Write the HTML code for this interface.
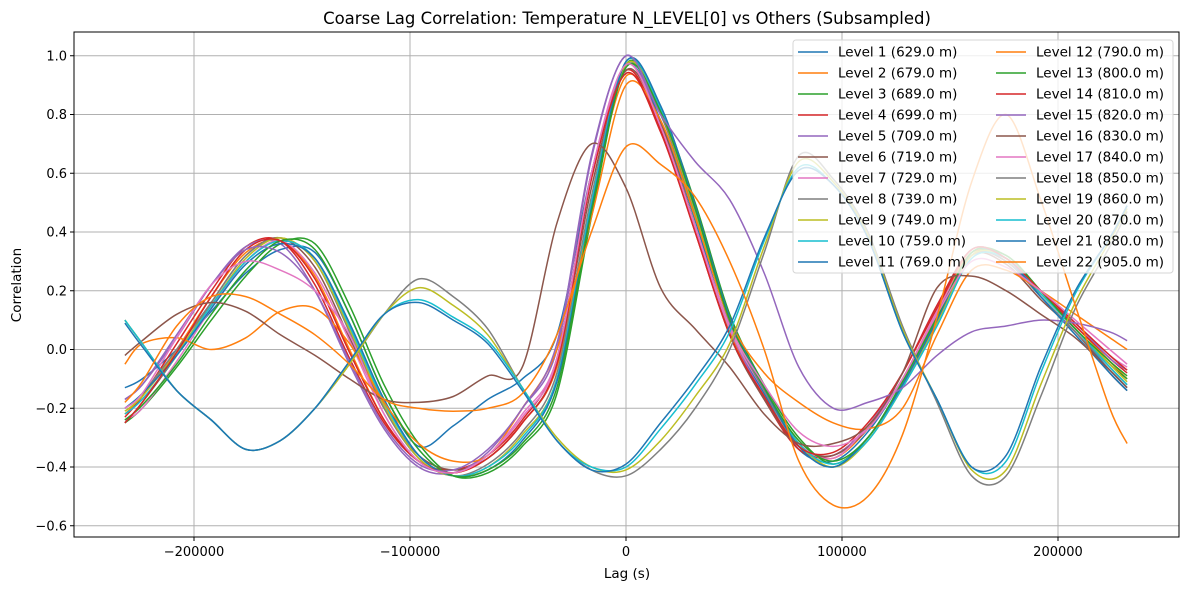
<!DOCTYPE html>
<html><head><meta charset="utf-8"><style>
body{margin:0;background:#fff;}
svg{display:block;font-family:"DejaVu Sans","Liberation Sans",sans-serif;}
</style></head><body>
<svg id="chart" width="1189" height="590" viewBox="0 0 1189 590" xmlns="http://www.w3.org/2000/svg">
<rect width="1189" height="590" fill="#fff"/>
<text x="627" y="24" font-size="16.5" text-anchor="middle" fill="#000">Coarse Lag Correlation: Temperature N_LEVEL[0] vs Others (Subsampled)</text>
<g id="grid"></g>
<g id="series"></g>
<rect x="74" y="32" width="1105" height="505" fill="none" stroke="#000" stroke-width="1"/>
<g id="axes"></g>
<text x="627" y="578" font-size="13.5" text-anchor="middle">Lag (s)</text>
<text transform="translate(21,285) rotate(-90)" font-size="13.5" text-anchor="middle">Correlation</text>
<g id="legend"></g>
</svg>
<script>
const lags=[-232000,-224000,-208000,-192000,-176000,-160000,-144000,-128000,-112000,-96000,-80000,-64000,-48000,-32000,-16000,0,16000,32000,48000,64000,80000,96000,112000,128000,144000,160000,176000,192000,208000,224000,232000];
const levelNames=["Level 1 (629.0 m)","Level 2 (679.0 m)","Level 3 (689.0 m)","Level 4 (699.0 m)","Level 5 (709.0 m)","Level 6 (719.0 m)","Level 7 (729.0 m)","Level 8 (739.0 m)","Level 9 (749.0 m)","Level 10 (759.0 m)","Level 11 (769.0 m)","Level 12 (790.0 m)","Level 13 (800.0 m)","Level 14 (810.0 m)","Level 15 (820.0 m)","Level 16 (830.0 m)","Level 17 (840.0 m)","Level 18 (850.0 m)","Level 19 (860.0 m)","Level 20 (870.0 m)","Level 21 (880.0 m)","Level 22 (905.0 m)"];
const level1=[-0.13,-0.1,0.0,0.13,0.26,0.34,0.33,0.12,-0.15,-0.33,-0.26,-0.17,-0.1,0.05,0.6,0.97,0.78,0.44,0.07,-0.15,-0.34,-0.38,-0.28,-0.1,0.12,0.33,0.3,0.18,0.06,-0.07,-0.13];
const level2=[-0.22,-0.16,0.0,0.18,0.33,0.37,0.25,0.0,-0.24,-0.38,-0.42,-0.37,-0.25,-0.06,0.5,0.93,0.76,0.42,0.06,-0.16,-0.33,-0.37,-0.27,-0.1,0.13,0.33,0.3,0.19,0.08,-0.04,-0.1];
const level3=[-0.25,-0.2,-0.06,0.1,0.25,0.36,0.36,0.15,-0.12,-0.32,-0.43,-0.42,-0.33,-0.15,0.45,0.97,0.82,0.5,0.12,-0.12,-0.3,-0.39,-0.3,-0.12,0.1,0.32,0.32,0.2,0.07,-0.05,-0.1];
const level4=[-0.23,-0.16,0.02,0.2,0.35,0.37,0.22,-0.03,-0.25,-0.38,-0.41,-0.36,-0.24,-0.03,0.6,0.95,0.75,0.4,0.05,-0.17,-0.34,-0.36,-0.26,-0.08,0.14,0.34,0.31,0.2,0.08,-0.03,-0.08];
const level5=[-0.17,-0.12,0.04,0.22,0.35,0.36,0.2,-0.05,-0.27,-0.4,-0.42,-0.35,-0.2,0.0,0.65,1.0,0.76,0.42,0.07,-0.16,-0.33,-0.36,-0.26,-0.08,0.15,0.34,0.31,0.2,0.09,-0.03,-0.07];
const level6=[-0.25,-0.18,-0.02,0.16,0.32,0.38,0.28,0.04,-0.2,-0.36,-0.41,-0.37,-0.25,-0.05,0.55,0.95,0.77,0.42,0.05,-0.17,-0.33,-0.36,-0.27,-0.1,0.12,0.32,0.29,0.17,0.06,-0.08,-0.14];
const level7=[-0.24,-0.2,-0.04,0.14,0.3,0.37,0.26,0.03,-0.22,-0.38,-0.42,-0.36,-0.23,-0.04,0.58,0.97,0.76,0.41,0.07,-0.14,-0.32,-0.37,-0.26,-0.1,0.13,0.32,0.31,0.2,0.09,-0.02,-0.06];
const level8=[-0.2,-0.15,0.0,0.16,0.32,0.38,0.3,0.06,-0.2,-0.37,-0.43,-0.39,-0.28,-0.08,0.52,0.97,0.8,0.46,0.09,-0.14,-0.33,-0.4,-0.3,-0.12,0.1,0.32,0.3,0.18,0.06,-0.06,-0.12];
const level9=[-0.21,-0.16,-0.01,0.15,0.31,0.38,0.3,0.07,-0.19,-0.37,-0.43,-0.4,-0.29,-0.1,0.5,0.97,0.81,0.47,0.1,-0.13,-0.32,-0.4,-0.31,-0.13,0.09,0.32,0.31,0.19,0.07,-0.05,-0.11];
const level10=[-0.22,-0.17,-0.02,0.15,0.3,0.37,0.31,0.08,-0.18,-0.36,-0.43,-0.4,-0.3,-0.1,0.5,0.98,0.82,0.48,0.1,-0.13,-0.32,-0.39,-0.31,-0.13,0.08,0.31,0.31,0.19,0.07,-0.06,-0.12];
const level11=[-0.2,-0.15,-0.02,0.14,0.29,0.36,0.31,0.09,-0.17,-0.36,-0.43,-0.41,-0.31,-0.11,0.48,0.98,0.83,0.49,0.11,-0.13,-0.33,-0.4,-0.3,-0.12,0.1,0.33,0.31,0.18,0.05,-0.08,-0.14];
const level12=[-0.05,0.02,0.04,0.0,0.04,0.13,0.14,0.02,-0.18,-0.32,-0.38,-0.36,-0.2,0.0,0.45,0.9,0.78,0.45,0.1,-0.08,-0.18,-0.25,-0.27,-0.2,0.05,0.27,0.27,0.2,0.12,0.04,0.0];
const level13=[-0.24,-0.19,-0.05,0.12,0.27,0.37,0.34,0.12,-0.15,-0.34,-0.43,-0.41,-0.32,-0.13,0.47,0.96,0.81,0.48,0.1,-0.13,-0.31,-0.38,-0.3,-0.11,0.11,0.33,0.32,0.2,0.07,-0.04,-0.09];
const level14=[-0.25,-0.18,-0.01,0.18,0.34,0.37,0.24,-0.01,-0.24,-0.38,-0.42,-0.37,-0.25,-0.05,0.58,0.94,0.74,0.4,0.05,-0.16,-0.33,-0.35,-0.25,-0.08,0.15,0.34,0.31,0.2,0.09,-0.02,-0.07];
const level15=[-0.17,-0.12,0.05,0.22,0.34,0.33,0.2,-0.04,-0.26,-0.39,-0.41,-0.34,-0.2,0.02,0.66,1.0,0.8,0.64,0.51,0.26,-0.06,-0.2,-0.18,-0.13,-0.02,0.06,0.08,0.1,0.09,0.06,0.03];
const level16=[-0.02,0.03,0.12,0.16,0.13,0.05,-0.02,-0.1,-0.17,-0.18,-0.16,-0.09,-0.06,0.43,0.7,0.55,0.21,0.07,-0.06,-0.22,-0.32,-0.32,-0.26,-0.08,0.21,0.25,0.2,0.12,0.04,-0.07,-0.13];
const level17=[-0.2,-0.15,0.04,0.22,0.3,0.27,0.2,0.05,-0.22,-0.38,-0.42,-0.36,-0.22,-0.03,0.6,0.97,0.76,0.42,0.08,-0.12,-0.28,-0.33,-0.27,-0.1,0.12,0.3,0.28,0.2,0.1,0.0,-0.05];
const level18=[0.1,0.02,-0.14,-0.24,-0.34,-0.31,-0.2,-0.05,0.12,0.24,0.18,0.07,-0.13,-0.31,-0.41,-0.43,-0.34,-0.2,0.0,0.33,0.66,0.58,0.4,0.08,-0.18,-0.43,-0.43,-0.16,0.14,0.35,0.47];
const level19=[0.1,0.02,-0.14,-0.24,-0.34,-0.31,-0.2,-0.05,0.12,0.21,0.15,0.05,-0.13,-0.3,-0.4,-0.41,-0.31,-0.16,0.02,0.35,0.64,0.57,0.39,0.07,-0.17,-0.41,-0.41,-0.12,0.16,0.37,0.48];
const level20=[0.1,0.02,-0.14,-0.24,-0.34,-0.31,-0.2,-0.04,0.12,0.17,0.11,0.03,-0.13,-0.31,-0.4,-0.4,-0.27,-0.12,0.06,0.37,0.62,0.56,0.38,0.06,-0.17,-0.4,-0.38,-0.08,0.19,0.38,0.49];
const level21=[0.09,0.01,-0.14,-0.24,-0.34,-0.31,-0.2,-0.04,0.12,0.16,0.1,0.02,-0.14,-0.31,-0.41,-0.39,-0.25,-0.1,0.08,0.38,0.61,0.56,0.38,0.06,-0.17,-0.4,-0.36,-0.06,0.2,0.38,0.49];
const level22=[-0.18,-0.11,0.08,0.18,0.18,0.12,0.05,-0.05,-0.17,-0.2,-0.21,-0.2,-0.15,0.05,0.4,0.69,0.63,0.52,0.3,0.0,-0.38,-0.53,-0.5,-0.29,0.11,0.57,0.8,0.51,0.15,-0.2,-0.32];
const xTicks=[-200000,-100000,0,100000,200000];
const yTicks=[-0.6,-0.4,-0.2,0.0,0.2,0.4,0.6,0.8,1.0];

const allSeries=[level1,level2,level3,level4,level5,level6,level7,level8,level9,level10,level11,level12,level13,level14,level15,level16,level17,level18,level19,level20,level21,level22];
const palette=["#1f77b4","#ff7f0e","#2ca02c","#d62728","#9467bd","#8c564b","#e377c2","#7f7f7f","#bcbd22","#17becf"];
const NS="http://www.w3.org/2000/svg";
const X0=74,X1=1179,Y0=32,Y1=537;
function xScale(v){return 626+v*0.00216;}
function yScale(v){return 349.5-v*293.75;}
function mk(tag,parent){const e=document.createElementNS(NS,tag);parent.appendChild(e);return e;}
const grid=document.getElementById('grid'),axes=document.getElementById('axes');
xTicks.forEach(t=>{
  const x=xScale(t);
  const g=mk('line',grid);
  
  
  g.setAttribute('x1',x);g.setAttribute('x2',x);g.setAttribute('y1',Y0);g.setAttribute('y2',Y1);
  g.setAttribute('stroke','#b0b0b0');g.setAttribute('stroke-width','1');
  const tk=mk('line',axes);
  
  
  tk.setAttribute('x1',x);tk.setAttribute('x2',x);tk.setAttribute('y1',Y1);tk.setAttribute('y2',Y1+4);tk.setAttribute('stroke','#000');
  const lb=mk('text',axes);
  
  
  lb.setAttribute('x',x);lb.setAttribute('y',556);lb.setAttribute('font-size','13');lb.setAttribute('text-anchor','middle');
  lb.textContent=(t<0?'\u2212':'')+Math.abs(t);
});
yTicks.forEach(t=>{
  const y=yScale(t);
  const g=mk('line',grid);
  
  
  g.setAttribute('x1',X0);g.setAttribute('x2',X1);g.setAttribute('y1',y);g.setAttribute('y2',y);
  g.setAttribute('stroke','#b0b0b0');g.setAttribute('stroke-width','1');
  const tk=mk('line',axes);
  
  
  tk.setAttribute('x1',X0-4);tk.setAttribute('x2',X0);tk.setAttribute('y1',y);tk.setAttribute('y2',y);tk.setAttribute('stroke','#000');
  const lb=mk('text',axes);
  
  
  lb.setAttribute('x',X0-7);lb.setAttribute('y',y+4.5);lb.setAttribute('font-size','13');lb.setAttribute('text-anchor','end');
  lb.textContent=(t<0?'\u2212':'')+Math.abs(t).toFixed(1);
});
function pathFor(vals){
  const p=vals.map((v,i)=>[xScale(lags[i]),yScale(v)]);
  let d='M'+p[0][0].toFixed(1)+','+p[0][1].toFixed(1);
  for(let i=0;i<p.length-1;i++){
    const a=p[Math.max(0,i-1)],b=p[i],c=p[i+1],e=p[Math.min(p.length-1,i+2)];
    const t=0.16;
    const c1=[b[0]+(c[0]-a[0])*t,b[1]+(c[1]-a[1])*t];
    const c2=[c[0]-(e[0]-b[0])*t,c[1]-(e[1]-b[1])*t];
    d+='C'+c1[0].toFixed(1)+','+c1[1].toFixed(1)+' '+c2[0].toFixed(1)+','+c2[1].toFixed(1)+' '+c[0].toFixed(1)+','+c[1].toFixed(1);
  }
  return d;
}
const sg=document.getElementById('series');
allSeries.forEach((vals,i)=>{
  const pth=mk('path',sg);
  
  
  pth.setAttribute('d',pathFor(vals));
  pth.setAttribute('fill','none');pth.setAttribute('stroke',palette[i%10]);pth.setAttribute('stroke-width','1.5');
  pth.setAttribute('stroke-linejoin','round');
});
const lg=document.getElementById('legend');
const box=mk('rect',lg);


box.setAttribute('x',793);box.setAttribute('y',40);box.setAttribute('width',380);box.setAttribute('height',233);box.setAttribute('rx',3);
box.setAttribute('fill','#fff');box.setAttribute('fill-opacity','0.8');box.setAttribute('stroke','#d6d6d6');
levelNames.forEach((n,i)=>{
  const col=i<11?0:1,row=i%11;
  const hx=col?996:798,y=52+row*21;
  const ln=mk('line',lg);
  
  
  ln.setAttribute('x1',hx);ln.setAttribute('x2',hx+30);ln.setAttribute('y1',y);ln.setAttribute('y2',y);
  ln.setAttribute('stroke',palette[i%10]);ln.setAttribute('stroke-width','1.5');
  const tx=mk('text',lg);
  
  
  tx.setAttribute('x',hx+40);tx.setAttribute('y',y+4.5);tx.setAttribute('font-size','13.5');
  tx.textContent=n;
});
</script>
</body></html>
